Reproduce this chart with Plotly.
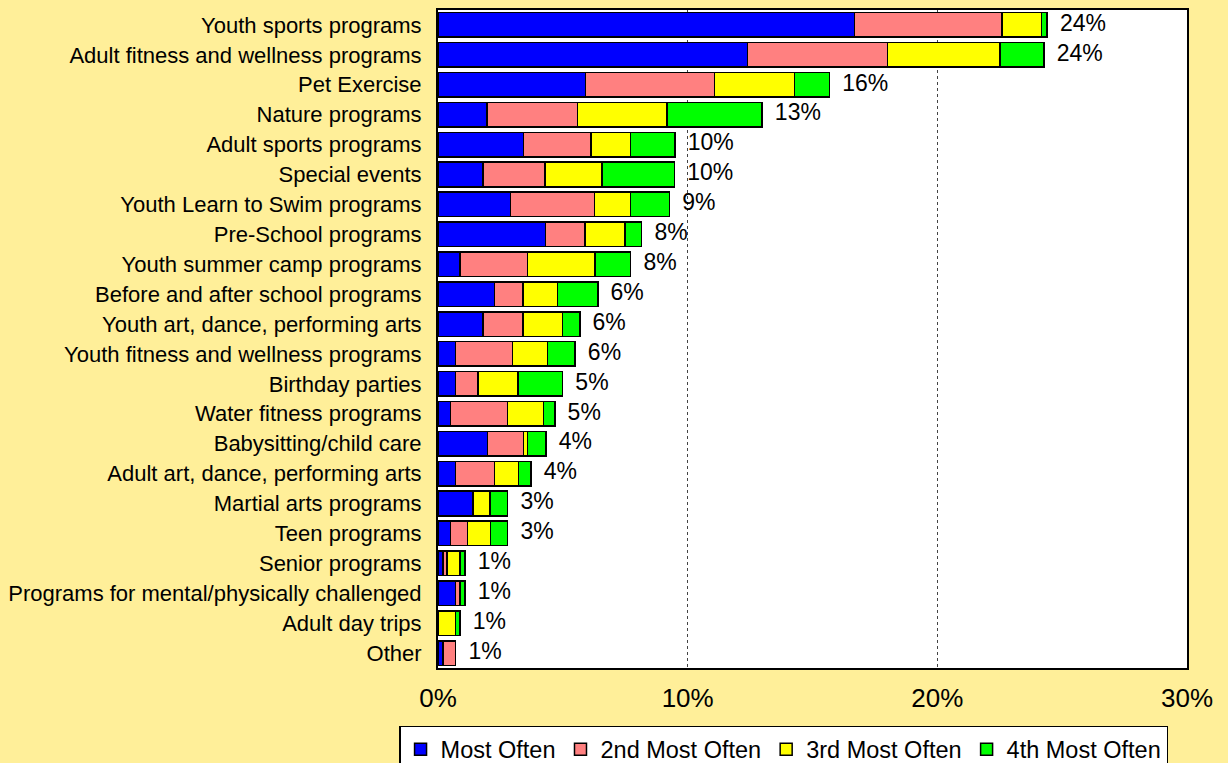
import plotly.graph_objects as go

categories = [
    "Youth sports programs", "Adult fitness and wellness programs", "Pet Exercise",
    "Nature programs", "Adult sports programs", "Special events",
    "Youth Learn to Swim programs", "Pre-School programs", "Youth summer camp programs",
    "Before and after school programs", "Youth art, dance, performing arts",
    "Youth fitness and wellness programs", "Birthday parties", "Water fitness programs",
    "Babysitting/child care", "Adult art, dance, performing arts", "Martial arts programs",
    "Teen programs", "Senior programs", "Programs for mental/physically challenged",
    "Adult day trips", "Other",
]
most_often = [16.69, 12.39, 5.90, 1.97, 3.42, 1.80, 2.91, 4.30, 0.88, 2.27, 1.81,
              0.71, 0.71, 0.51, 1.99, 0.71, 1.40, 0.51, 0.20, 0.71, 0.00, 0.20]
second_most = [5.90, 5.61, 5.18, 3.62, 2.70, 2.48, 3.36, 1.59, 2.71, 1.13, 1.60,
               2.27, 0.89, 2.27, 1.43, 1.55, 0.00, 0.68, 0.16, 0.17, 0.00, 0.51]
third_most = [1.59, 4.51, 3.20, 3.59, 1.59, 2.28, 1.44, 1.60, 2.70, 1.39, 1.58,
              1.40, 1.60, 1.44, 0.16, 0.96, 0.69, 0.92, 0.52, 0.00, 0.71, 0.00]
fourth_most = [0.22, 1.76, 1.40, 3.80, 1.78, 2.91, 1.56, 0.67, 1.43, 1.61, 0.69,
               1.11, 1.79, 0.46, 0.74, 0.50, 0.70, 0.68, 0.20, 0.20, 0.17, 0.00]
total_labels = ["24%", "24%", "16%", "13%", "10%", "10%", "9%", "8%", "8%", "6%", "6%",
                "6%", "5%", "5%", "4%", "4%", "3%", "3%", "1%", "1%", "1%", "1%"]
series_names = ["Most Often", "2nd Most Often", "3rd Most Often", "4th Most Often"]
series_colors = ["#0000FF", "#FF8080", "#FFFF00", "#00FF00"]
x_ticks = [0, 10, 20, 30]
x_tick_labels = ["0%", "10%", "20%", "30%"]

FONT = "Arial, Liberation Sans, sans-serif"
BG = "#FFEF99"

fig = go.Figure()
for name, vals, col in zip(series_names, [most_often, second_most, third_most, fourth_most], series_colors):
    fig.add_trace(go.Bar(
        y=categories, x=vals, name=name, orientation="h",
        marker=dict(color=col, line=dict(color="black", width=1.5)),
    ))

totals = [a + b + c + d for a, b, c, d in zip(most_often, second_most, third_most, fourth_most)]
fig.add_trace(go.Scatter(
    y=categories, x=totals, mode="text", text=["  " + t for t in total_labels],
    textposition="middle right", textfont=dict(family=FONT, size=23, color="black"),
    showlegend=False, hoverinfo="skip",
))

fig.update_layout(
    barmode="stack",
    bargap=0.18,
    width=1228, height=763,
    margin=dict(l=438, r=41, t=10, b=95, autoexpand=False),
    paper_bgcolor=BG,
    plot_bgcolor="white",
    font=dict(family=FONT, color="black"),
    legend=dict(
        orientation="h", x=-0.052, xanchor="left", y=-0.088, yanchor="top",
        bgcolor="white", bordercolor="black", borderwidth=1.5,
        font=dict(family=FONT, size=23.5, color="black"),
        traceorder="normal", itemwidth=30,
    ),
)
fig.update_xaxes(
    range=[0, 30], tickvals=x_ticks, ticktext=x_tick_labels,
    tickfont=dict(family=FONT, size=26, color="black"),
    showgrid=True, gridcolor="#444444", griddash="dot", gridwidth=1,
    showline=True, linecolor="black", linewidth=2, mirror=True,
    zeroline=False, ticks="", ticklabelstandoff=6,
)
fig.update_yaxes(
    range=[len(categories) - 0.5, -0.5],
    tickfont=dict(family=FONT, size=22, color="black"),
    showline=True, linecolor="black", linewidth=2, mirror=True,
    ticks="", ticklabelstandoff=10,
)

fig.write_html(
    "out.html",
    config={"displayModeBar": False},
    post_script="document.body.style.margin='0';document.body.style.padding='0';",
)
